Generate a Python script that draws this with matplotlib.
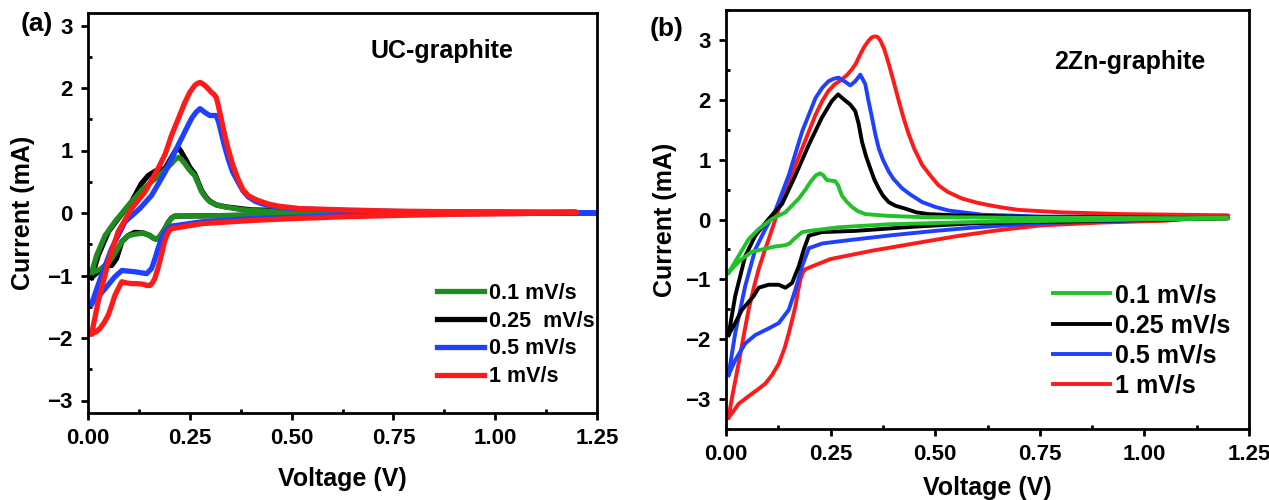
import matplotlib
matplotlib.use("Agg")
import matplotlib.pyplot as plt
from matplotlib.ticker import MultipleLocator

plt.rcParams['font.family'] = ['Liberation Sans', 'DejaVu Sans']
plt.rcParams['font.weight'] = 'bold'

labels_a = ["0.1 mV/s", "0.25  mV/s", "0.5 mV/s", "1 mV/s"]
labels_b = ["0.1 mV/s", "0.25 mV/s", "0.5 mV/s", "1 mV/s"]

# ---------------- Panel (a): UC-graphite ----------------
a01_v = [0.009, 0.021, 0.042, 0.066, 0.099, 0.131, 0.156, 0.18, 0.205, 0.215, 0.222, 0.229, 0.24, 0.25, 0.262, 0.27, 0.279, 0.289, 0.299, 0.315, 0.336, 0.37, 0.40, 0.49, 0.75, 1.2,
         1.0, 0.63, 0.5, 0.35, 0.213, 0.205, 0.197, 0.189, 0.176, 0.168, 0.16, 0.152, 0.136, 0.115, 0.099, 0.083, 0.07, 0.058, 0.045, 0.033, 0.02, 0.009]
a01_i = [-0.95, -0.68, -0.36, -0.14, 0.12, 0.36, 0.50, 0.63, 0.79, 0.86, 0.89, 0.86, 0.77, 0.68, 0.60, 0.48, 0.34, 0.25, 0.18, 0.13, 0.10, 0.06, 0.04, 0.02, 0.01, 0.005,
         0.0, -0.005, -0.02, -0.04, -0.05, -0.08, -0.15, -0.25, -0.38, -0.42, -0.40, -0.36, -0.32, -0.34, -0.36, -0.46, -0.60, -0.73, -0.83, -0.89, -0.93, -0.95]

a025_v = [0.009, 0.025, 0.05, 0.074, 0.107, 0.131, 0.148, 0.168, 0.189, 0.205, 0.213, 0.221, 0.228, 0.234, 0.242, 0.25, 0.262, 0.27, 0.279, 0.289, 0.299, 0.315, 0.336, 0.40, 0.55, 0.8, 1.2,
          1.0, 0.7, 0.5, 0.35, 0.213, 0.205, 0.197, 0.189, 0.176, 0.168, 0.16, 0.152, 0.136, 0.115, 0.099, 0.083, 0.07, 0.058, 0.042, 0.025, 0.009]
a025_i = [-1.03, -0.68, -0.30, -0.09, 0.18, 0.47, 0.60, 0.68, 0.71, 0.89, 0.98, 1.05, 0.99, 0.92, 0.83, 0.73, 0.63, 0.50, 0.36, 0.26, 0.19, 0.13, 0.10, 0.05, 0.03, 0.015, 0.01,
          0.0, -0.01, -0.02, -0.04, -0.05, -0.08, -0.15, -0.25, -0.38, -0.42, -0.40, -0.36, -0.32, -0.31, -0.36, -0.46, -0.73, -0.84, -0.84, -0.94, -1.03]

a05_v = [0.009, 0.033, 0.058, 0.091, 0.127, 0.156, 0.189, 0.221, 0.254, 0.265, 0.275, 0.287, 0.299, 0.315, 0.321, 0.327, 0.335, 0.344, 0.355, 0.368, 0.38, 0.393, 0.41, 0.426, 0.45, 0.483, 0.55, 0.63, 0.8, 1.0, 1.25,
         1.0, 0.8, 0.63, 0.5, 0.40, 0.28, 0.205, 0.197, 0.189, 0.18, 0.172, 0.164, 0.156, 0.144, 0.115, 0.083, 0.066, 0.042, 0.025, 0.009]
a05_i = [-1.45, -1.0, -0.57, -0.14, 0.07, 0.28, 0.65, 1.08, 1.51, 1.61, 1.67, 1.61, 1.56, 1.56, 1.45, 1.29, 1.08, 0.87, 0.66, 0.50, 0.36, 0.26, 0.19, 0.15, 0.11, 0.08, 0.06, 0.04, 0.02, 0.01, 0.0,
         -0.01, -0.02, -0.04, -0.07, -0.09, -0.14, -0.21, -0.25, -0.30, -0.42, -0.57, -0.74, -0.89, -0.97, -0.94, -0.92, -1.02, -1.21, -1.34, -1.45]

a1_v = [0.009, 0.025, 0.05, 0.074, 0.107, 0.14, 0.172, 0.19, 0.205, 0.22, 0.238, 0.25, 0.262, 0.268, 0.275, 0.281, 0.287, 0.295, 0.303, 0.309, 0.315, 0.32, 0.327, 0.335, 0.344, 0.355, 0.368, 0.38, 0.393, 0.41, 0.426, 0.445, 0.467, 0.52, 0.63, 0.75, 0.9, 1.05, 1.2,
        1.05, 0.9, 0.75, 0.63, 0.5, 0.40, 0.28, 0.205, 0.2, 0.193, 0.187, 0.18, 0.172, 0.164, 0.158, 0.152, 0.145, 0.136, 0.12, 0.107, 0.095, 0.083, 0.075, 0.066, 0.058, 0.05, 0.04, 0.029, 0.02, 0.009]
a1_i = [-1.93, -1.42, -0.78, -0.30, 0.07, 0.34, 0.71, 0.95, 1.24, 1.48, 1.77, 1.93, 2.04, 2.07, 2.09, 2.07, 2.04, 1.99, 1.93, 1.90, 1.85, 1.72, 1.51, 1.27, 1.03, 0.78, 0.55, 0.38, 0.28, 0.22, 0.18, 0.14, 0.11, 0.07, 0.05, 0.03, 0.02, 0.015, 0.01,
        -0.01, -0.02, -0.04, -0.06, -0.09, -0.12, -0.17, -0.25, -0.28, -0.36, -0.48, -0.68, -0.88, -1.05, -1.12, -1.16, -1.16, -1.14, -1.13, -1.13, -1.12, -1.10, -1.2, -1.32, -1.48, -1.63, -1.75, -1.85, -1.9, -1.93]

# ---------------- Panel (b): 2Zn-graphite ----------------
b01_v = [0.006, 0.03, 0.054, 0.078, 0.11, 0.142, 0.174, 0.19, 0.202, 0.215, 0.225, 0.232, 0.241, 0.25, 0.261, 0.268, 0.277, 0.288, 0.301, 0.315, 0.333, 0.389, 0.469, 0.7, 1.2,
         0.8, 0.6, 0.389, 0.269, 0.2, 0.182, 0.172, 0.162, 0.152, 0.142, 0.118, 0.086, 0.062, 0.038, 0.02, 0.006]
b01_i = [-0.89, -0.61, -0.33, -0.16, 0.01, 0.12, 0.35, 0.50, 0.63, 0.74, 0.77, 0.74, 0.66, 0.65, 0.64, 0.57, 0.40, 0.30, 0.21, 0.14, 0.09, 0.06, 0.04, 0.03, 0.02,
         -0.02, -0.04, -0.08, -0.13, -0.19, -0.21, -0.27, -0.33, -0.40, -0.43, -0.45, -0.50, -0.54, -0.66, -0.78, -0.89]

b025_v = [0.006, 0.022, 0.046, 0.07, 0.102, 0.134, 0.166, 0.198, 0.229, 0.253, 0.268, 0.281, 0.297, 0.309, 0.317, 0.325, 0.335, 0.345, 0.355, 0.365, 0.375, 0.389, 0.405, 0.429, 0.455, 0.484, 0.548, 0.75, 1.0, 1.2,
          0.9, 0.6, 0.45, 0.309, 0.229, 0.198, 0.186, 0.174, 0.158, 0.142, 0.126, 0.102, 0.078, 0.066, 0.038, 0.022, 0.006]
b025_i = [-1.93, -1.28, -0.61, -0.27, 0.01, 0.26, 0.74, 1.25, 1.70, 1.98, 2.09, 2.01, 1.92, 1.81, 1.60, 1.30, 1.05, 0.85, 0.66, 0.52, 0.40, 0.29, 0.23, 0.18, 0.12, 0.09, 0.07, 0.04, 0.03, 0.02,
          -0.02, -0.06, -0.12, -0.19, -0.21, -0.27, -0.50, -0.78, -1.06, -1.14, -1.09, -1.09, -1.14, -1.28, -1.51, -1.73, -1.93]

b05_v = [0.006, 0.022, 0.046, 0.07, 0.094, 0.118, 0.15, 0.182, 0.214, 0.23, 0.245, 0.257, 0.269, 0.285, 0.297, 0.309, 0.321, 0.333, 0.34, 0.349, 0.357, 0.365, 0.375, 0.389, 0.40, 0.421, 0.44, 0.469, 0.50, 0.532, 0.612, 0.75, 1.0, 1.2,
         0.9, 0.75, 0.6, 0.5, 0.4, 0.3, 0.23, 0.198, 0.182, 0.166, 0.15, 0.126, 0.102, 0.07, 0.046, 0.022, 0.006]
b05_i = [-2.6, -1.90, -1.11, -0.50, -0.16, 0.15, 0.74, 1.47, 2.03, 2.20, 2.31, 2.35, 2.37, 2.30, 2.24, 2.31, 2.42, 2.26, 2.0, 1.70, 1.42, 1.19, 1.0, 0.80, 0.68, 0.52, 0.42, 0.29, 0.21, 0.15, 0.08, 0.05, 0.04, 0.03,
         -0.03, -0.06, -0.13, -0.19, -0.26, -0.34, -0.40, -0.48, -0.78, -1.17, -1.51, -1.73, -1.82, -1.93, -2.07, -2.35, -2.6]

b1_v = [0.006, 0.015, 0.03, 0.042, 0.054, 0.066, 0.078, 0.09, 0.102, 0.114, 0.126, 0.138, 0.15, 0.166, 0.182, 0.198, 0.214, 0.23, 0.245, 0.26, 0.277, 0.29, 0.301, 0.31, 0.321, 0.33, 0.341, 0.348, 0.355, 0.362, 0.369, 0.378, 0.389, 0.40, 0.413, 0.425, 0.437, 0.45, 0.469, 0.49, 0.508, 0.53, 0.564, 0.6, 0.628, 0.66, 0.7, 0.8, 0.95, 1.2,
        1.05, 0.9, 0.75, 0.65, 0.55, 0.45, 0.35, 0.25, 0.214, 0.19, 0.184, 0.178, 0.172, 0.166, 0.158, 0.15, 0.14, 0.126, 0.11, 0.094, 0.078, 0.062, 0.045, 0.03, 0.018, 0.006]
b1_i = [-3.31, -2.95, -2.41, -1.95, -1.51, -1.15, -0.83, -0.57, -0.33, -0.08, 0.18, 0.41, 0.63, 0.91, 1.19, 1.47, 1.75, 1.98, 2.15, 2.26, 2.34, 2.42, 2.51, 2.60, 2.76, 2.88, 2.99, 3.04, 3.06, 3.05, 2.99, 2.85, 2.60, 2.32, 1.98, 1.68, 1.42, 1.18, 0.91, 0.72, 0.57, 0.46, 0.35, 0.28, 0.24, 0.20, 0.16, 0.12, 0.09, 0.07,
        -0.02, -0.05, -0.10, -0.18, -0.28, -0.40, -0.52, -0.66, -0.76, -0.83, -0.88, -1.0, -1.2, -1.45, -1.68, -1.90, -2.15, -2.41, -2.6, -2.74, -2.83, -2.91, -3.0, -3.08, -3.2, -3.31]

col_green_a = '#1e8c1e'
col_green_b = '#22c02a'
col_black = '#000000'
col_blue = '#2040ff'
col_red = '#ff1a1a'

fig = plt.figure(figsize=(12.69, 5.0), dpi=100)
ax_a = fig.add_axes([88/1269, 87/500, 509/1269, 400/500])
ax_b = fig.add_axes([726/1269, 71/500, 523/1269, 419/500])


def style(ax, ylim):
    ax.set_xlim(0, 1.25)
    ax.set_ylim(*ylim)
    ax.xaxis.set_major_locator(MultipleLocator(0.25))
    ax.xaxis.set_minor_locator(MultipleLocator(0.125))
    ax.yaxis.set_major_locator(MultipleLocator(1))
    ax.yaxis.set_minor_locator(MultipleLocator(0.5))
    ax.xaxis.set_major_formatter(plt.FuncFormatter(lambda v, p: f"{v:.2f}"))
    ax.yaxis.set_major_formatter(plt.FuncFormatter(lambda v, p: f"{int(round(v))}".replace('-', '\u2212')))
    for s in ax.spines.values():
        s.set_linewidth(2.0)
    ax.tick_params(which='major', direction='out', length=5, width=2, labelsize=16, pad=6)
    ax.tick_params(which='minor', direction='in', length=3, width=2)
    for lab in ax.get_xticklabels() + ax.get_yticklabels():
        lab.set_fontweight('bold')


# Panel (a)
lw_a = 3.8
la_b, = ax_a.plot(a025_v, a025_i, color=col_black, lw=lw_a, solid_joinstyle='round')
la_g, = ax_a.plot(a01_v, a01_i, color=col_green_a, lw=lw_a, solid_joinstyle='round')
la_bl, = ax_a.plot(a05_v, a05_i, color=col_blue, lw=lw_a, solid_joinstyle='round')
la_r, = ax_a.plot(a1_v, a1_i, color=col_red, lw=lw_a, solid_joinstyle='round')
style(ax_a, (-3.2, 3.2))
ax_a.set_xlabel("Voltage (V)", fontsize=18, fontweight='bold')
ax_a.set_ylabel("Current (mA)", fontsize=18, fontweight='bold')
ax_a.xaxis.set_label_coords(0.5, -0.135)
ax_a.yaxis.set_label_coords(-0.105, 0.5)
ax_a.text(0.555, 0.905, "UC-graphite", transform=ax_a.transAxes, fontsize=18, fontweight='bold', va='center', ha='left')
ax_a.legend([la_g, la_b, la_bl, la_r], labels_a, loc='center left', bbox_to_anchor=(0.685, 0.195),
            frameon=False, handlelength=2.2, handletextpad=0.25, labelspacing=0.32,
            borderpad=0, borderaxespad=0, prop={'weight': 'bold', 'size': 15.5})

# Panel (b)
lw_b = 2.8
lb_r, = ax_b.plot(b1_v, b1_i, color=col_red, lw=lw_b, solid_joinstyle='round')
lb_bl, = ax_b.plot(b05_v, b05_i, color=col_blue, lw=lw_b, solid_joinstyle='round')
lb_b, = ax_b.plot(b025_v, b025_i, color=col_black, lw=lw_b, solid_joinstyle='round')
lb_g, = ax_b.plot(b01_v, b01_i, color=col_green_b, lw=lw_b, solid_joinstyle='round')
style(ax_b, (-3.5, 3.5))
ax_b.set_xlabel("Voltage (V)", fontsize=18, fontweight='bold')
ax_b.set_ylabel("Current (mA)", fontsize=18, fontweight='bold')
ax_b.xaxis.set_label_coords(0.5, -0.112)
ax_b.yaxis.set_label_coords(-0.094, 0.5)
ax_b.text(0.628, 0.875, "2Zn-graphite", transform=ax_b.transAxes, fontsize=18, fontweight='bold', va='center', ha='left')
ax_b.legend([lb_g, lb_b, lb_bl, lb_r], labels_b, loc='center left', bbox_to_anchor=(0.625, 0.211),
            frameon=False, handlelength=2.3, handletextpad=0.2, labelspacing=0.25,
            borderpad=0, borderaxespad=0, prop={'weight': 'bold', 'size': 18})

fig.text(37/1269, 1 - 24/500, "(a)", fontsize=19, fontweight='bold', ha='center', va='center')
fig.text(667/1269, 1 - 29/500, "(b)", fontsize=19, fontweight='bold', ha='center', va='center')

fig.savefig("out.png", dpi=100)
